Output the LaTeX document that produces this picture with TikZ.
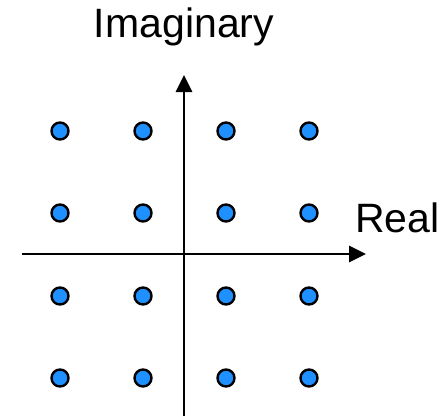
\documentclass[tikz,border=0pt]{standalone}
\usepackage{fontspec}
\setmainfont{Liberation Sans}
\usetikzlibrary{arrows.meta}
\definecolor{dotblue}{RGB}{30,144,255}
\tikzset{
  axis/.style={line width=2.7pt,-{Triangle[length=17pt,width=16pt]}},
  qdot/.style={circle,draw=black,fill=dotblue,line width=2.4pt,minimum size=17pt,inner sep=0pt},
  lab/.style={font=\fontsize{41}{48}\selectfont,inner sep=0pt}
}
\begin{document}
\begin{tikzpicture}[x=1pt,y=-1pt]
\useasboundingbox (0,0) rectangle (447,416);
\coordinate (xs) at (22,254);
\coordinate (xe) at (366,254);
\coordinate (ys) at (184,416);
\coordinate (ye) at (184,75);
\draw[axis] (xs) -- (xe);
\draw[axis] (ys) -- (ye);
\foreach \i/\x in {1/60,2/143,3/226,4/309}{
  \foreach \j/\y in {1/131,2/213,3/296,4/378}{
    \node[qdot] (d\i\j) at (\x,\y) {};
  }
}
\node[lab,anchor=base] (im) at (184,37) {Imaginary};
\node[lab,anchor=base west] (re) at (355,232) {Real};
\end{tikzpicture}
\end{document}
